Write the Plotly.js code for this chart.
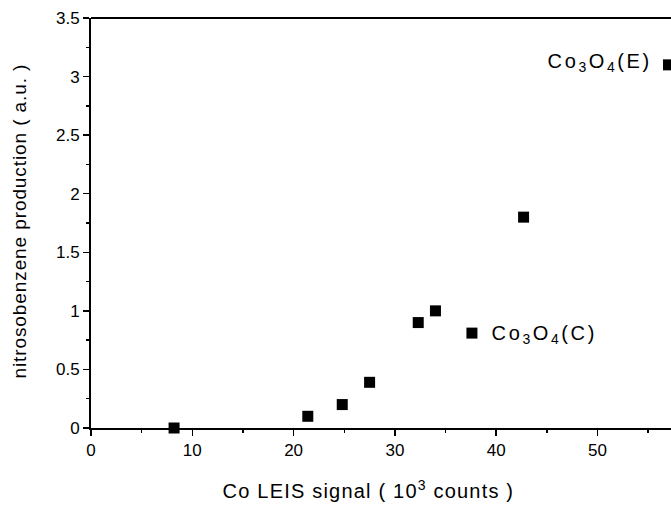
<!DOCTYPE html>
<html>
<head>
<meta charset="utf-8">
<script src="https://cdn.plot.ly/plotly-3.0.1.min.js"></script>
<style>
html,body{margin:0;padding:0;background:#fff;}
#chart{width:671px;height:505px;}
.annotation[data-index="0"] .annotation-text,
.annotation[data-index="1"] .annotation-text{letter-spacing:2.6px;}
.annotation[data-index="2"] .annotation-text{letter-spacing:1.2px;}
.annotation[data-index="3"] .annotation-text{letter-spacing:0.9px;}
</style>
</head>
<body>
<div id="chart"></div>
<script>
// Co LEIS signal (10^3 counts)
const leisSignal = [8.2, 21.4, 24.8, 27.5, 32.3, 34.0, 37.6, 42.7, 57.0];
// nitrosobenzene production (a.u.)
const nitrosoProduction = [0.0, 0.10, 0.20, 0.39, 0.90, 1.00, 0.81, 1.80, 3.10];
const xTicks = [0, 10, 20, 30, 40, 50];
const xTickText = ['0', '10', '20', '30', '40', '50'];
const yTicks = [0, 0.5, 1, 1.5, 2, 2.5, 3, 3.5];
const yTickText = ['0', '0.5', '1', '1.5', '2', '2.5', '3', '3.5'];
const xTitle = 'Co LEIS signal ( 10<sup>3</sup> counts )';
const yTitle = 'nitrosobenzene production ( a.u. )';
const labelTexts = [
  'Co<sub>3</sub>O<sub>4</sub>(C)',
  'Co<sub>3</sub>O<sub>4</sub>(E)'
];
const labelX = [44.8, 50.2];
const labelY = [0.80, 3.12];

const font = 'Arial, "Liberation Sans", Helvetica, sans-serif';

const trace = {
  x: leisSignal, y: nitrosoProduction, type: 'scatter', mode: 'markers',
  marker: {symbol: 'square', size: 11, color: '#000'},
  cliponaxis: false, hoverinfo: 'none'
};

const layout = {
  width: 671, height: 505,
  margin: {l: 91, r: 0, t: 18, b: 77},
  paper_bgcolor: '#fff', plot_bgcolor: '#fff',
  showlegend: false,
  font: {family: font, color: '#000', size: 17},
  xaxis: {
    range: [0, 57.25], tickvals: xTicks, ticktext: xTickText,
    showgrid: false, zeroline: false, showline: true, linecolor: '#000', linewidth: 2,
    ticks: 'outside', ticklen: 6, tickwidth: 1.5, tickcolor: '#000',
    minor: {tickvals: [5, 15, 25, 35, 45, 55], ticks: 'outside', ticklen: 3, tickwidth: 1.5, tickcolor: '#000'},
    tickfont: {size: 17, family: font}
  },
  yaxis: {
    range: [0, 3.5], tickvals: yTicks, ticktext: yTickText,
    showgrid: false, zeroline: false, showline: true, linecolor: '#000', linewidth: 2,
    ticks: 'outside', ticklen: 6, tickwidth: 1.5, tickcolor: '#000',
    minor: {tickvals: [0.25, 0.75, 1.25, 1.75, 2.25, 2.75, 3.25], ticks: 'outside', ticklen: 3, tickwidth: 1.5, tickcolor: '#000'},
    tickfont: {size: 17, family: font}
  },
  shapes: [{type: 'line', xref: 'paper', yref: 'paper', x0: 0, x1: 1, y0: 1, y1: 1, line: {color: '#000', width: 2}}],
  annotations: [
    {x: labelX[0], y: labelY[0], xref: 'x', yref: 'y', text: labelTexts[0], showarrow: false, xanchor: 'center', yanchor: 'middle', font: {size: 20, family: font}},
    {x: labelX[1], y: labelY[1], xref: 'x', yref: 'y', text: labelTexts[1], showarrow: false, xanchor: 'center', yanchor: 'middle', font: {size: 20, family: font}},
    {x: 0.479, y: -0.15, xref: 'paper', yref: 'paper', text: xTitle, showarrow: false, xanchor: 'center', yanchor: 'middle', font: {size: 20, family: font}},
    {x: -0.122, y: 0.505, xref: 'paper', yref: 'paper', text: yTitle, textangle: -90, showarrow: false, xanchor: 'center', yanchor: 'middle', font: {size: 19, family: font}}
  ]
};

Plotly.newPlot('chart', [trace], layout, {staticPlot: true, displayModeBar: false});
</script>
</body>
</html>
